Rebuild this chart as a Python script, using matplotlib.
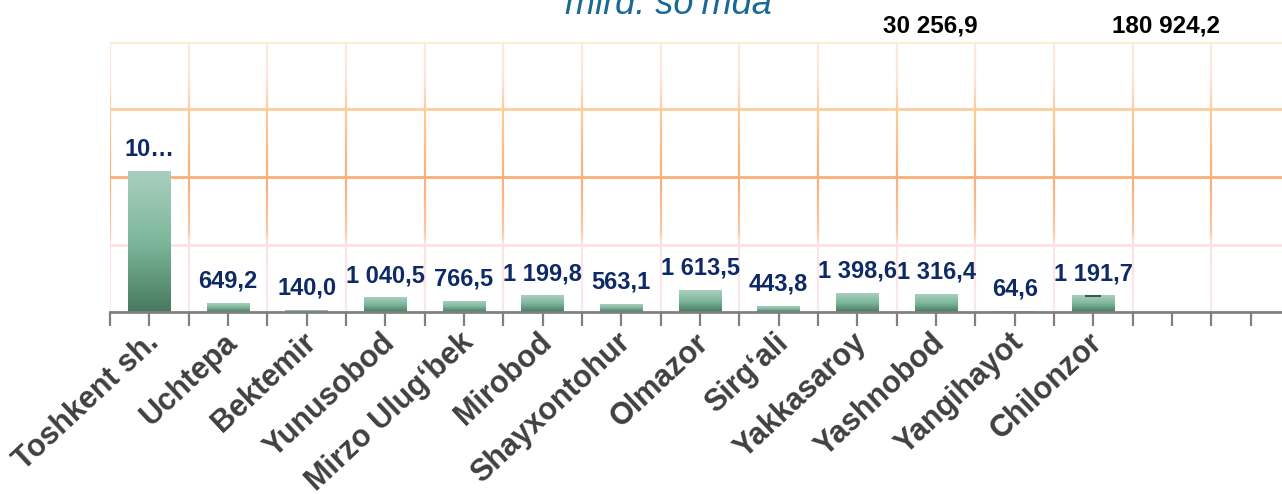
import numpy as np
import matplotlib
matplotlib.use("Agg")
import matplotlib.pyplot as plt
import matplotlib.transforms as mtransforms
from matplotlib.collections import LineCollection
from matplotlib.colors import LinearSegmentedColormap

plt.rcParams["font.family"] = ["Liberation Sans", "DejaVu Sans"]

# Tumanlar bo'yicha ko'rsatkichlar, mlrd. so'm
districts = ["Toshkent sh.", "Uchtepa", "Bektemir", "Yunusobod", "Mirzo Ulug‘bek",
             "Mirobod", "Shayxontohur", "Olmazor", "Sirg‘ali", "Yakkasaroy",
             "Yashnobod", "Yangihayot", "Chilonzor", "", ""]
values = [10387.7, 649.2, 140.0, 1040.5, 766.5, 1199.8, 563.1, 1613.5, 443.8,
          1398.6, 1316.4, 64.6, 1191.7, None, None]
value_labels = ["10…", "649,2", "140,0", "1 040,5", "766,5", "1 199,8", "563,1",
                "1 613,5", "443,8", "1 398,6", "1 316,4", "64,6", "1 191,7", "", ""]
# yuqoridagi qora yozuvlar (kategoriya indeksi, matn)
top_notes = [(10, "30 256,9"), (13, "180 924,2")]
y_max = 20000
y_step = 5000

fig = plt.figure(figsize=(12.82, 4.94), dpi=100)
ax = fig.add_axes([110 / 1282, 182 / 494, 1180 / 1282, 270 / 494])
n = len(districts)

# to'r chiziqlari uchun vertikal gradient
grid_cmap = LinearSegmentedColormap.from_list(
    "grid", [(0.0, "#fde8e8"), (0.25, "#fde3e3"), (0.30, "#fcc7a2"),
             (0.50, "#fbae79"), (0.75, "#fdcd9a"), (0.88, "#fde4e4"),
             (1.0, "#fcecd0")])

ys = np.linspace(0, y_max, 200)
segs = []
cols = []
for xb in np.arange(-0.5, n, 1.0):
    for y0, y1 in zip(ys[:-1], ys[1:]):
        segs.append([(xb, y0), (xb, y1)])
        cols.append(grid_cmap((y0 + y1) / 2 / y_max))
ax.add_collection(LineCollection(segs, colors=cols, linewidths=1.6, zorder=0.5))
for yv in np.arange(y_step, y_max + 1, y_step):
    ax.axhline(yv, color=grid_cmap(yv / y_max), lw=2.0, zorder=0.6)

# ustunlar gradient bilan
bar_cmap = LinearSegmentedColormap.from_list("bar", ["#477a60", "#7db79b", "#a9cfbf"])
xs = [i for i, v in enumerate(values) if v is not None]
hs = [v for v in values if v is not None]
bars = ax.bar(xs, hs, width=0.54, color="none", edgecolor="none", zorder=2)
grad = np.linspace(0, 1, 256).reshape(-1, 1)
for b in bars:
    x0, y0 = b.get_x(), b.get_y()
    w, h = b.get_width(), b.get_height()
    ax.imshow(grad, cmap=bar_cmap, origin="lower", aspect="auto",
              extent=(x0, x0 + w, y0, y0 + h), zorder=2, interpolation="bicubic")
ax.set_xlim(-0.5, n - 0.5)
ax.set_ylim(0, y_max)

# Chilonzor ustunidagi kichik belgi
ax.plot([12], [values[12]], marker="_", markersize=11, color="#3b5a4a", mew=1.5, zorder=3)

for i, v in enumerate(values):
    if v is None:
        continue
    ax.annotate(value_labels[i], (i, v), xytext=(0, 16), textcoords="offset points",
                ha="center", va="center", fontsize=17, fontweight="bold",
                color="#0d2a66", zorder=4)

for i, txt in top_notes:
    ax.text(i - 0.07, 1.058, txt, transform=ax.get_xaxis_transform(), ha="center",
            va="center", fontsize=17.5, fontweight="bold", color="black", clip_on=False)

fig.text(668 / 1282, 1 - 14 / 494, "mlrd. so‘mda", ha="center", va="baseline",
         fontsize=26, style="italic", color="#1b6895")

for s in ["top", "right", "left"]:
    ax.spines[s].set_visible(False)
ax.spines["bottom"].set_color("#808080")
ax.spines["bottom"].set_linewidth(2)
ax.set_yticks([])

ax.set_xticks(np.arange(-0.5, n, 1.0), minor=True)
ax.set_xticks(range(n))
ax.tick_params(axis="x", which="both", length=10, width=1.6, color="#808080", direction="out")
ax.set_xticklabels(districts, rotation=43, ha="right", va="center", rotation_mode="anchor",
                   fontsize=22, fontweight="bold", color="#404040")
ax.tick_params(axis="x", which="major", pad=9)
shift = mtransforms.ScaledTranslation(5 / 100, 0, fig.dpi_scale_trans)
for lbl in ax.get_xticklabels():
    lbl.set_transform(lbl.get_transform() + shift)

fig.savefig("out.png", dpi=100)
